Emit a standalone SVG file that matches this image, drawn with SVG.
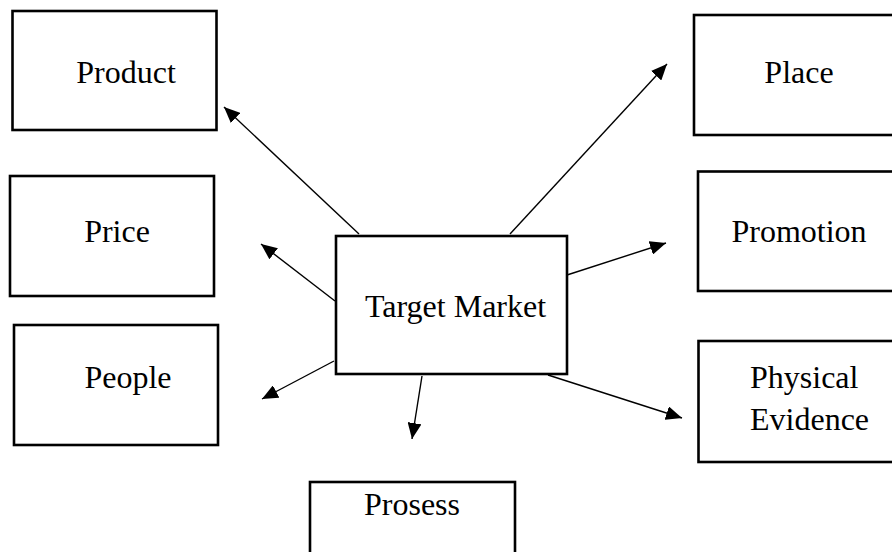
<svg xmlns="http://www.w3.org/2000/svg" width="892" height="552" viewBox="0 0 892 552">
  <style>
    .box { fill: #ffffff; stroke: #000000; stroke-width: 2.6; }
    .lbl { font-family: "Liberation Serif", "Times New Roman", serif; font-size: 32px; fill: #000000; }
    .mid { text-anchor: middle; }
    .link { stroke: #000000; stroke-width: 1.4; fill: none; marker-end: url(#head); }
  </style>
  <defs>
    <marker id="head" viewBox="0 0 16 14" refX="16" refY="7" markerWidth="16" markerHeight="14" markerUnits="userSpaceOnUse" orient="auto">
      <path d="M0,0 L16,7 L0,14 z" fill="#000000"/>
    </marker>
  </defs>

  <rect width="892" height="552" fill="#ffffff"/>

  <!-- spokes from the central box out to each mix element -->
  <g id="connectors">
    <line class="link" x1="359" y1="234" x2="224" y2="107"/>
    <line class="link" x1="510" y1="234" x2="667" y2="64"/>
    <line class="link" x1="335" y1="301" x2="261" y2="244"/>
    <line class="link" x1="334" y1="361" x2="262" y2="399"/>
    <line class="link" x1="422" y1="376" x2="412" y2="439"/>
    <line class="link" x1="567" y1="275" x2="666" y2="243"/>
    <line class="link" x1="548" y1="375" x2="682" y2="418"/>
  </g>

  <g id="node-product">
    <rect class="box" x="12.5" y="11" width="204" height="119"/>
    <text class="lbl mid" x="126" y="83">Product</text>
  </g>

  <g id="node-place">
    <rect class="box" x="694" y="15" width="210" height="120"/>
    <text class="lbl mid" x="799" y="83">Place</text>
  </g>

  <g id="node-price">
    <rect class="box" x="10" y="176" width="204" height="120"/>
    <text class="lbl mid" x="117" y="242">Price</text>
  </g>

  <g id="node-promotion">
    <rect class="box" x="698" y="171.5" width="210" height="119.5"/>
    <text class="lbl mid" x="799" y="242">Promotion</text>
  </g>

  <g id="node-target-market">
    <rect class="box" x="336" y="236" width="231" height="138"/>
    <text class="lbl" x="365" y="317">Target Market</text>
  </g>

  <g id="node-people">
    <rect class="box" x="14" y="325" width="204" height="120"/>
    <text class="lbl mid" x="128" y="388">People</text>
  </g>

  <g id="node-physical-evidence">
    <rect class="box" x="698.5" y="341" width="210" height="121"/>
    <text class="lbl" x="750" y="388">Physical</text>
    <text class="lbl" x="750" y="430">Evidence</text>
  </g>

  <g id="node-prosess">
    <rect class="box" x="310" y="482" width="205" height="80"/>
    <text class="lbl mid" x="412" y="515">Prosess</text>
  </g>
</svg>
